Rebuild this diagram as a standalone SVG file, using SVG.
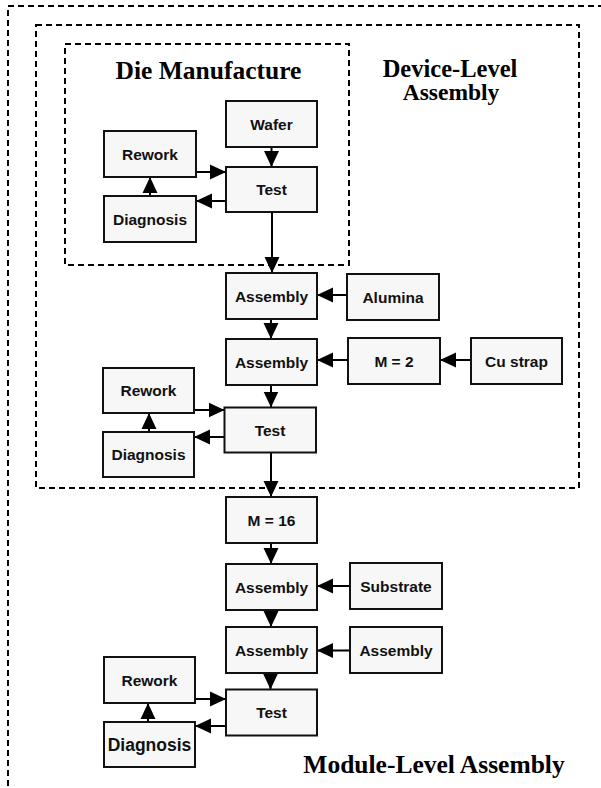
<svg xmlns="http://www.w3.org/2000/svg" width="601" height="788" viewBox="0 0 601 788">
<defs>
<style>
.frame{fill:none;stroke:#000;stroke-width:2;stroke-dasharray:6 4}
.box rect{fill:#f7f7f7;stroke:#111;stroke-width:2}
.box text{font-family:"Liberation Sans",Arial,sans-serif;font-weight:bold;font-size:15.5px;fill:#111;text-anchor:middle}
.title{font-family:"Liberation Serif","Times New Roman",serif;font-weight:bold;font-size:25.5px;fill:#000;text-anchor:middle}
#connectors line{stroke:#000;stroke-width:2;marker-end:url(#ah)}
</style>
<marker id="ah" markerUnits="userSpaceOnUse" markerWidth="16" markerHeight="16" viewBox="0 0 15 14" refX="15" refY="7" orient="auto">
<path d="M0,0 L15,7 L0,14 Z" fill="#000"/>
</marker>
</defs>
<rect width="601" height="788" fill="#fff"/>
<g id="frames">
<rect class="frame" x="8" y="6" width="620" height="800"/>
<rect class="frame" x="36" y="25" width="543" height="463"/>
<rect class="frame" x="65" y="44" width="284" height="221"/>
</g>
<g id="titles">
<text class="title" x="450" y="76.5" style="font-size:24.5px">Device-Level</text>
<text class="title" x="451" y="99.5" style="font-size:23.5px">Assembly</text>
<text class="title" x="208.5" y="79">Die Manufacture</text>
<text class="title" x="434" y="773">Module-Level Assembly</text>
</g>
<g id="connectors">
<line x1="271.5" y1="147" x2="271.5" y2="167"/>
<line x1="196" y1="172" x2="226" y2="172"/>
<line x1="226" y1="201" x2="196" y2="201"/>
<line x1="150" y1="196" x2="150" y2="177"/>
<line x1="272" y1="212" x2="272" y2="273"/>
<line x1="347" y1="295" x2="317" y2="295"/>
<line x1="271" y1="319" x2="271" y2="339"/>
<line x1="348" y1="360" x2="317" y2="360"/>
<line x1="471" y1="360" x2="440" y2="360"/>
<line x1="271" y1="385" x2="271" y2="407.5"/>
<line x1="194" y1="410" x2="224.5" y2="410"/>
<line x1="224.5" y1="437" x2="194" y2="437"/>
<line x1="149" y1="432" x2="149" y2="413"/>
<line x1="271" y1="452.5" x2="271" y2="497"/>
<line x1="271" y1="543" x2="271" y2="564"/>
<line x1="350" y1="586" x2="317" y2="586"/>
<line x1="271" y1="610" x2="271" y2="627"/>
<line x1="350" y1="650.5" x2="317" y2="650.5"/>
<line x1="270.5" y1="673" x2="270.5" y2="689.5"/>
<line x1="195" y1="699" x2="226" y2="699"/>
<line x1="226" y1="726" x2="195" y2="726"/>
<line x1="148" y1="722" x2="148" y2="703"/>
</g>
<g id="wafer" class="box"><rect x="226" y="101" width="91" height="46"/><text x="271.5" y="129.5">Wafer</text></g>
<g id="test1" class="box"><rect x="226" y="167" width="91" height="45"/><text x="271.5" y="195">Test</text></g>
<g id="rework1" class="box"><rect x="104" y="131" width="92" height="46"/><text x="150" y="159.5">Rework</text></g>
<g id="diagnosis1" class="box"><rect x="104" y="196" width="92" height="46"/><text x="150" y="224.5">Diagnosis</text></g>
<g id="assembly1" class="box"><rect x="226" y="273" width="91" height="46"/><text x="271.5" y="301.5">Assembly</text></g>
<g id="alumina" class="box"><rect x="347" y="274" width="92" height="46"/><text x="393" y="302.5">Alumina</text></g>
<g id="assembly2" class="box"><rect x="226" y="339" width="91" height="46"/><text x="271.5" y="367.5">Assembly</text></g>
<g id="m2" class="box"><rect x="348" y="338" width="92" height="46"/><text x="394" y="366.5">M = 2</text></g>
<g id="custrap" class="box"><rect x="471" y="338" width="91" height="46"/><text x="516.5" y="366.5">Cu strap</text></g>
<g id="rework2" class="box"><rect x="103" y="368" width="91" height="45"/><text x="148.5" y="396">Rework</text></g>
<g id="test2" class="box"><rect x="224.5" y="407.5" width="91.5" height="45"/><text x="270" y="435.5">Test</text></g>
<g id="diagnosis2" class="box"><rect x="103" y="432" width="91" height="45"/><text x="148.5" y="460">Diagnosis</text></g>
<g id="m16" class="box"><rect x="226" y="497" width="91" height="46"/><text x="271.5" y="525.5">M = 16</text></g>
<g id="assembly3" class="box"><rect x="226" y="564" width="91" height="46"/><text x="271.5" y="592.5">Assembly</text></g>
<g id="substrate" class="box"><rect x="350" y="563" width="92" height="46"/><text x="396" y="591.5">Substrate</text></g>
<g id="assembly4" class="box"><rect x="226" y="627" width="91" height="46"/><text x="271.5" y="655.5">Assembly</text></g>
<g id="assembly5" class="box"><rect x="350" y="627" width="92" height="46"/><text x="396" y="655.5">Assembly</text></g>
<g id="rework3" class="box"><rect x="104" y="657" width="91" height="46"/><text x="149.5" y="685.5">Rework</text></g>
<g id="test3" class="box"><rect x="226" y="689.5" width="91" height="46"/><text x="271.5" y="718">Test</text></g>
<g id="diagnosis3" class="box"><rect x="104" y="722" width="91" height="45"/><text x="149.5" y="750.5" style="font-size:17.5px">Diagnosis</text></g>
</svg>
